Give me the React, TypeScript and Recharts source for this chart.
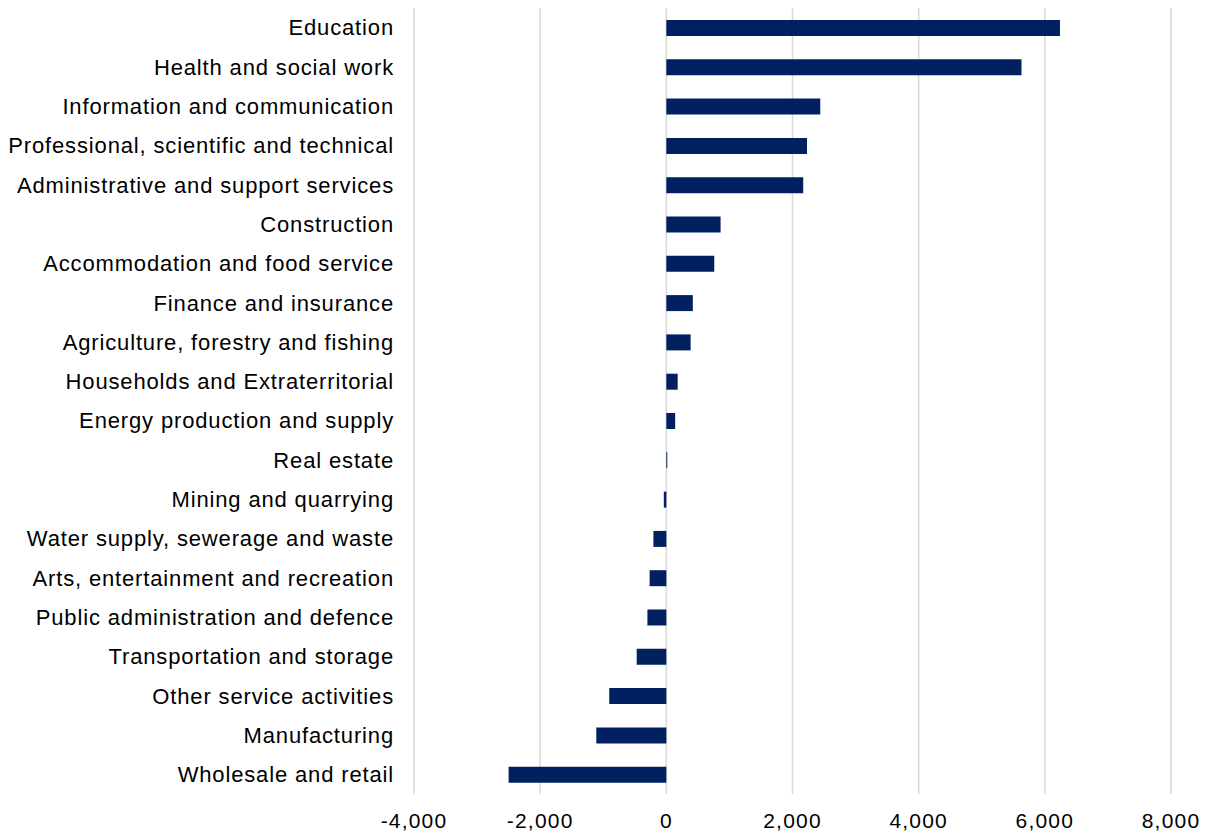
import { BarChart, Bar, XAxis, YAxis, CartesianGrid } from "recharts";

const SECTORS = [
  "Education",
  "Health and social work",
  "Information and communication",
  "Professional, scientific and technical",
  "Administrative and support services",
  "Construction",
  "Accommodation and food service",
  "Finance and insurance",
  "Agriculture, forestry and fishing",
  "Households and Extraterritorial",
  "Energy production and supply",
  "Real estate",
  "Mining and quarrying",
  "Water supply, sewerage and waste",
  "Arts, entertainment and recreation",
  "Public administration and defence",
  "Transportation and storage",
  "Other service activities",
  "Manufacturing",
  "Wholesale and retail",
];

const CHANGE = [
  6240, 5630, 2440, 2230, 2170, 860, 760, 420, 385, 180, 140, 15, -40, -205,
  -265, -300, -470, -905, -1110, -2500,
];

const X_TICKS = [-4000, -2000, 0, 2000, 4000, 6000, 8000];

const NAVY = "#002060";
const FONT = "'Liberation Sans', Arial, sans-serif";

const data = SECTORS.map((name, i) => ({ name, value: CHANGE[i] }));

export default function App() {
  return (
    <div style={{ width: 1213, height: 837, background: "#fff" }}>
      <style>{"body { margin: 0; }"}</style>
      <BarChart
        width={1213}
        height={837}
        data={data}
        layout="vertical"
        margin={{ top: 8, right: 42, bottom: 8, left: 0 }}
      >
        <CartesianGrid
          horizontal={false}
          stroke="#d9d9d9"
          strokeWidth={1.5}
        />
        <XAxis
          type="number"
          domain={[-4000, 8000]}
          ticks={X_TICKS}
          axisLine={false}
          tickLine={false}
          tickMargin={13}
          height={35}
          tick={{
            fill: "#000",
            fontSize: 21,
            fontFamily: FONT,
            letterSpacing: 1.2,
          }}
          tickFormatter={(v: number) => v.toLocaleString("en-US")}
        />
        <YAxis
          type="category"
          dataKey="name"
          width={414}
          axisLine={false}
          tickLine={false}
          tickSize={0}
          tickMargin={20}
          interval={0}
          tick={{
            fill: "#000",
            fontSize: 22,
            fontFamily: FONT,
            letterSpacing: 0.85,
          }}
        />
        <Bar
          dataKey="value"
          fill={NAVY}
          barSize={16}
          isAnimationActive={false}
        />
      </BarChart>
    </div>
  );
}
